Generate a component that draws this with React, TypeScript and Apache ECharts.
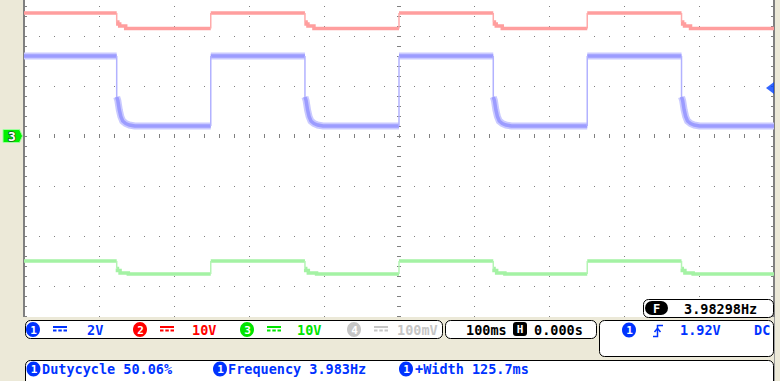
import React, { useEffect, useRef } from 'react';
import * as echarts from 'echarts';

// ---------------- values ----------------
const TIME_RANGE_MS = [-500, 500]; // 100 ms/div, 10 divisions, trigger at centre
const TIME_PER_DIV_MS = 100;
const DIV_RANGE = [-4, 4]; // 8 vertical divisions, channel grounds at 0
const RISING_EDGES_MS = [-251.0, 0.0, 251.0];
const FALLING_EDGES_MS = [-376.4, -125.4, 125.7, 376.7];

const CH1_VOLTS_PER_DIV = 2;
const CH1_LEVELS_V = [3.2, 0.4]; // high, low
const CH1_FALL_TAIL = [
  [0, 1.56], [1.5, 1.42], [3.5, 1.04], [5.5, 0.78], [8, 0.6], [12, 0.5], [17, 0.44], [24, 0.4],
];

const CH2_VOLTS_PER_DIV = 10;
const CH2_LEVELS_V = [24.6, 21.5];
const CH2_FALL_TAIL = [
  [0, 22.8], [1.5, 22.8], [1.5, 22.4], [4, 22.4], [4, 22.0], [12, 22.0], [12, 21.5],
];

const CH3_VOLTS_PER_DIV = 10;
const CH3_LEVELS_V = [-25.0, -27.6];
const CH3_FALL_TAIL = [
  [0, -26.5], [1, -26.5], [1, -26.9], [4.5, -26.9], [4.5, -27.4], [15.5, -27.4], [15.5, -27.6],
];

const TRIGGER_LEVEL_V = 1.92;

const CHANNEL_SCALES = ['2V', '10V', '10V', '100mV'];
const TIMEBASE_TEXT = '100ms';
const H_POSITION_TEXT = '0.000s';
const TRIGGER_TEXTS = ['1.92V', 'DC'];
const COUNTER_TEXT = '3.98298Hz';
const MEASURE_TEXTS = ['Dutycycle 50.06%', 'Frequency 3.983Hz', '+Width 125.7ms'];

// ---------------- helpers ----------------
type Pt = [number, number | string];

function buildTrace(levels: number[], tail: number[][], vpd: number) {
  const [hi, lo] = levels;
  const events = [
    ...RISING_EDGES_MS.map((t) => ({ t, rise: true })),
    ...FALLING_EDGES_MS.map((t) => ({ t, rise: false })),
  ].sort((a, b) => a.t - b.t);
  const band: Pt[] = [];
  const edges: Pt[] = [];
  let level = events[0].rise ? lo : hi;
  band.push([TIME_RANGE_MS[0], level]);
  for (const ev of events) {
    if (ev.rise) {
      band.push([ev.t, lo], [ev.t, '-'], [ev.t, hi]);
      edges.push([ev.t, lo], [ev.t, hi], [ev.t, '-']);
      level = hi;
    } else {
      band.push([ev.t, hi], [ev.t, '-']);
      edges.push([ev.t, hi], [ev.t, tail[0][1]], [ev.t, '-']);
      for (const [dt, v] of tail) band.push([ev.t + dt, v]);
      level = lo;
    }
  }
  band.push([TIME_RANGE_MS[1], level]);
  const toDiv = (p: Pt): Pt => [p[0], typeof p[1] === 'number' ? p[1] / vpd : '-'];
  return { band: band.map(toDiv), edges: edges.map(toDiv) };
}

const MONO = '"DejaVu Sans Mono", "Liberation Mono", monospace';
const BEIGE = '#ECE9D8';
const BLUE = '#0033FF';
const RED = '#FF0000';
const GREEN = '#00E400';
const GREY = '#C6C6C6';
const TICK = '#808080';

function label(x: number, y: number, text: string, color: string, size = 13.5, align = 'left') {
  return {
    type: 'text', x, y, z: 102, silent: true,
    style: {
      text, fill: color, font: `bold ${size}px ${MONO}`,
      align, verticalAlign: 'middle', textAlign: align, textVerticalAlign: 'middle',
    },
  };
}

function box(x: number, y: number, w: number, h: number) {
  return {
    type: 'rect', z: 100, silent: true,
    shape: { x, y, width: w, height: h, r: 5 },
    style: { fill: '#FFFFFF', stroke: '#000000', lineWidth: 1 },
  };
}

function badge(cx: number, cy: number, n: string, color: string) {
  return [
    { type: 'ellipse', z: 101, silent: true, shape: { cx, cy, rx: 7, ry: 7.5 }, style: { fill: color } },
    label(cx + 0.5, cy + 0.5, n, '#FFFFFF', 11, 'center'),
  ];
}

function dcIcon(x: number, y: number, color: string) {
  const r = (xx: number, yy: number, w: number) => ({
    type: 'rect', z: 101, silent: true, shape: { x: xx, y: yy, width: w, height: 2 }, style: { fill: color },
  });
  return [r(x, y, 14), r(x, y + 3.5, 3.5), r(x + 5.3, y + 3.5, 3.5), r(x + 10.5, y + 3.5, 3.5)];
}

function buildGraphics() {
  const chColors = [BLUE, RED, GREEN, GREY];
  const badgeX = [33, 140, 247, 354];
  const dcX = [53, 160, 267, 374];
  const textX = [87, 192, 297, 397];
  const els: any[] = [
    { type: 'rect', z: 99, silent: true, shape: { x: 0, y: 317, width: 780, height: 64 }, style: { fill: BEIGE } },
    { type: 'line', z: 99, silent: true, shape: { x1: 774.5, y1: 317, x2: 774.5, y2: 381 }, style: { stroke: '#9A9A9A', lineWidth: 1 } },
    // channel 3 ground marker
    {
      type: 'polygon', z: 101, silent: true,
      shape: { points: [[3, 129.5], [19.5, 129.5], [22.5, 136], [19.5, 142.5], [3, 142.5]] },
      style: { fill: '#00F000', stroke: '#9CFF9C', lineWidth: 1 },
    },
    {
      type: 'text', x: 12, y: 136.5, z: 102, silent: true,
      style: {
        text: '3', fill: '#FFFFFF', stroke: '#1A5A1A', lineWidth: 1.5,
        font: `bold 13px ${MONO}`, align: 'center', verticalAlign: 'middle',
        textAlign: 'center', textVerticalAlign: 'middle',
      },
    },
    // frequency counter box
    box(643.5, 299.5, 130, 18),
    { type: 'rect', z: 101, silent: true, shape: { x: 645, y: 301, width: 23, height: 14, r: 7 }, style: { fill: '#000' } },
    label(656.5, 308.5, 'F', '#FFFFFF', 12, 'center'),
    label(684, 308.5, COUNTER_TEXT, '#000000'),
    // channel box
    box(25.5, 320.5, 417, 18),
    // timebase box
    box(445.5, 320.5, 151, 18),
    { type: 'rect', z: 101, silent: true, shape: { x: 513, y: 322, width: 14, height: 14, r: 3 }, style: { fill: '#000' } },
    label(520, 329.5, 'H', '#FFFFFF', 11, 'center'),
    label(466, 329.5, TIMEBASE_TEXT, '#000000'),
    label(534, 329.5, H_POSITION_TEXT, '#000000'),
    // trigger box
    box(599.5, 320.5, 174, 36),
    ...badge(629, 330, '1', BLUE),
    {
      type: 'polyline', z: 101, silent: true,
      shape: { points: [[653, 336.5], [657.5, 336.5], [657.5, 325.5], [663, 325.5]] },
      style: { stroke: BLUE, lineWidth: 1.5, fill: null },
    },
    {
      type: 'polyline', z: 101, silent: true,
      shape: { points: [[654.5, 332], [657.5, 328.5], [660.5, 332]] },
      style: { stroke: BLUE, lineWidth: 1.5, fill: null },
    },
    label(680, 329.5, TRIGGER_TEXTS[0], BLUE),
    label(754, 329.5, TRIGGER_TEXTS[1], BLUE),
    // measurement box
    box(25.5, 360.5, 748, 40),
  ];
  CHANNEL_SCALES.forEach((s, i) => {
    els.push(...badge(badgeX[i], 329.5, String(i + 1), chColors[i]));
    els.push(...dcIcon(dcX[i], 326, chColors[i]));
    els.push(label(textX[i], 329.5, s, chColors[i]));
  });
  const mBadge = [33.5, 220, 406];
  const mText = [42, 228, 415];
  MEASURE_TEXTS.forEach((s, i) => {
    els.push(...badge(mBadge[i], 369, '1', BLUE));
    els.push(label(mText[i], 368.5, s, BLUE));
  });
  return els;
}

export default function App() {
  const ref = useRef<HTMLDivElement>(null);
  useEffect(() => {
    if (!ref.current) return;
    const chart = echarts.init(ref.current, undefined, { renderer: 'svg' });
    const ch1 = buildTrace(CH1_LEVELS_V, CH1_FALL_TAIL, CH1_VOLTS_PER_DIV);
    const ch2 = buildTrace(CH2_LEVELS_V, CH2_FALL_TAIL, CH2_VOLTS_PER_DIV);
    const ch3 = buildTrace(CH3_LEVELS_V, CH3_FALL_TAIL, CH3_VOLTS_PER_DIV);

    const tickLine = { color: TICK, width: 1 };
    const xBase = {
      type: 'value', min: TIME_RANGE_MS[0], max: TIME_RANGE_MS[1], interval: TIME_PER_DIV_MS,
      axisLabel: { show: false }, position: 'bottom',
    };
    const yBase = {
      type: 'value', min: DIV_RANGE[0], max: DIV_RANGE[1], interval: 1, axisLabel: { show: false },
    };
    const lineSeries = (data: Pt[], color: string, width: number, z = 2) => ({
      type: 'line', data, xAxisIndex: 0, yAxisIndex: 0, showSymbol: false, symbol: 'none',
      connectNulls: false, silent: true, z, animation: false,
      lineStyle: { color, width, cap: 'butt', join: 'miter' },
      emphasis: { disabled: true },
    });

    chart.setOption({
      animation: false,
      grid: {
        left: 24, top: -64, width: 750, height: 400,
        show: true, backgroundColor: '#FFFFFF', borderWidth: 0,
        outerBoundsMode: 'none', containLabel: false,
      },
      xAxis: [
        {
          ...xBase,
          axisLine: { show: false, onZero: true, onZeroAxisIndex: 0 },
          axisTick: { show: true, inside: true, length: 2, lineStyle: tickLine },
          minorTick: { show: true, splitNumber: 5, length: 2, lineStyle: tickLine },
          splitLine: { show: true, lineStyle: { color: TICK, width: 1, type: [1, 9] } },
        },
        {
          ...xBase,
          axisLine: { show: false, onZero: true, onZeroAxisIndex: 0 },
          axisTick: { show: true, inside: false, length: 2, lineStyle: tickLine },
          minorTick: { show: true, splitNumber: 5, length: 2, lineStyle: tickLine },
          splitLine: { show: false },
        },
      ],
      yAxis: [
        {
          ...yBase, position: 'left',
          axisLine: { show: true, onZero: false, lineStyle: { color: TICK, width: 2 } },
          axisTick: { show: true, inside: true, length: 3, lineStyle: tickLine },
          minorTick: { show: true, splitNumber: 5, length: 3, lineStyle: tickLine },
          splitLine: { show: true, lineStyle: { color: TICK, width: 1, type: [1, 14] } },
        },
        {
          ...yBase, position: 'right',
          axisLine: { show: true, onZero: false, lineStyle: { color: TICK, width: 2 } },
          axisTick: { show: true, inside: true, length: 3, lineStyle: tickLine },
          minorTick: { show: true, splitNumber: 5, length: 3, lineStyle: tickLine },
          splitLine: { show: false },
        },
        {
          ...yBase, position: 'left',
          axisLine: { show: false, onZero: true, onZeroAxisIndex: 0 },
          axisTick: { show: true, inside: true, length: 2, lineStyle: tickLine },
          minorTick: { show: true, splitNumber: 5, length: 2, lineStyle: tickLine },
          splitLine: { show: false },
        },
        {
          ...yBase, position: 'left',
          axisLine: { show: false, onZero: true, onZeroAxisIndex: 0 },
          axisTick: { show: true, inside: false, length: 2, lineStyle: tickLine },
          minorTick: { show: true, splitNumber: 5, length: 2, lineStyle: tickLine },
          splitLine: { show: false },
        },
      ],
      series: [
        lineSeries(ch2.band, '#FF9E9E', 3.5),
        lineSeries(ch2.edges, '#FFAAAA', 1.5),
        lineSeries(ch1.band, '#CACAFF', 7),
        lineSeries(ch1.band, '#9C9CFF', 3.5, 3),
        lineSeries(ch1.edges, '#B2B2FF', 1.5, 3),
        lineSeries(ch3.band, '#A4F2A4', 3.5),
        lineSeries(ch3.edges, '#B4F4B4', 1.5),
        {
          type: 'scatter', xAxisIndex: 0, yAxisIndex: 0, silent: true, z: 5,
          data: [[TIME_RANGE_MS[1], TRIGGER_LEVEL_V / CH1_VOLTS_PER_DIV]],
          symbol: 'triangle', symbolSize: [12, 8], symbolRotate: 90, symbolOffset: [-4, 0],
          itemStyle: { color: '#0040FF' },
        },
      ],
      graphic: { elements: buildGraphics() },
    });
    return () => chart.dispose();
  }, []);

  return (
    <div
      ref={ref}
      style={{ position: 'fixed', left: 0, top: 0, width: 780, height: 381, background: BEIGE }}
    />
  );
}
